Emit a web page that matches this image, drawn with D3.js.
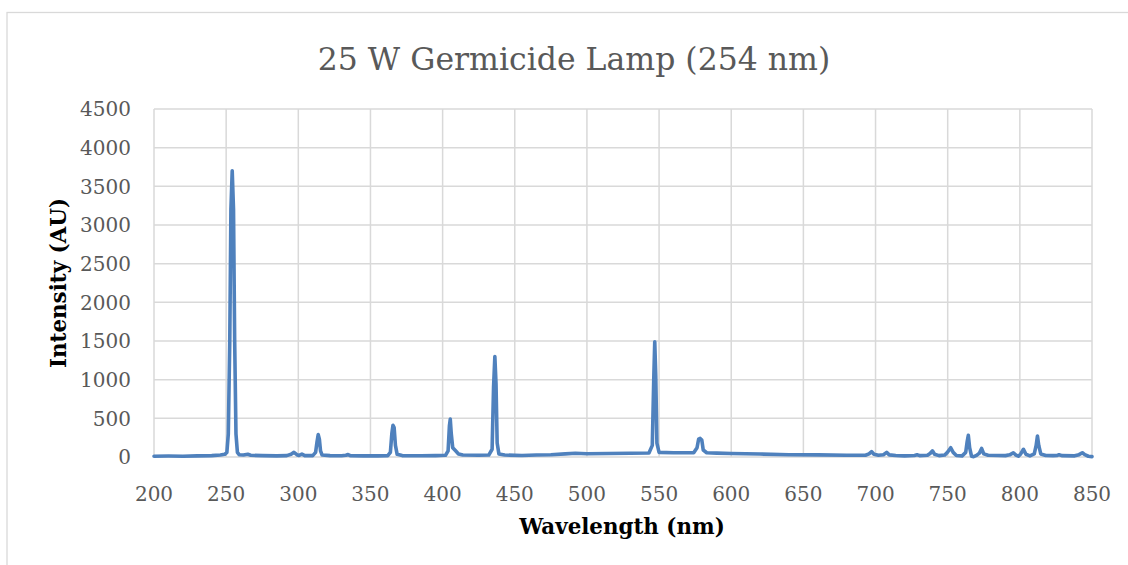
<!DOCTYPE html>
<meta charset="utf-8">
<style>
body {
  margin: 0;
  background: #fff;
}
text {
  font-family: "DejaVu Serif", serif;
}
.grid line {
  stroke: #d9d9d9;
  stroke-width: 1.5;
}
.tick-label {
  fill: #595959;
  font-size: 20px;
}
.axis-title {
  fill: #000;
  font-weight: bold;
  font-size: 21.4px;
}
</style>
<body>
<script src="https://cdn.jsdelivr.net/npm/d3@7"></script>
<script>

var width = 1128,
    height = 565;

var xTicks = [200, 250, 300, 350, 400, 450, 500, 550, 600, 650, 700, 750, 800, 850];
var yTicks = [0, 500, 1000, 1500, 2000, 2500, 3000, 3500, 4000, 4500];

// wavelength (nm), intensity (AU)
var wavelength = [
  200, 210, 220, 230, 240, 246, 249, 250.5, 251.5, 252.5, 253.3, 254.2, 255.1, 255.9, 256.8, 257.8, 259,
  262, 265, 267, 275, 285, 292, 295, 297, 299, 300.5, 302.5, 304.5,
  310, 312, 313, 313.8, 314.6, 315.4, 316.5, 322, 330, 333, 334.5, 336,
  345, 355, 362, 363.8, 364.8, 365.6, 366.4, 367.3, 368.5, 372,
  385, 395, 402, 403.8, 404.7, 405.3, 406, 407, 409, 411, 414,
  425, 432, 434.3, 435.3, 436.2, 437, 437.8, 439, 443,
  455, 465, 475, 485, 492, 500, 515, 530, 543,
  545.3, 546.3, 547, 547.7, 548.5, 550, 560, 574,
  576.3, 577.4, 578.5, 579.6, 580.6, 583, 590, 600, 620, 640, 660, 680,
  693, 695.5, 697.3, 698.9, 702, 705.5, 707.7, 709.5, 714, 720,
  727, 728.8, 730.5, 736, 737.8, 739.4, 740.9, 744, 748, 750, 752.1, 753.8, 756, 760,
  762.5, 763.5, 764.3, 765.2, 766.5, 768, 770, 772, 773.5, 775, 778,
  785, 790, 793, 795.5, 797.3, 799, 800.6, 802.5, 804.2, 807,
  810, 811.3, 812.2, 813.1, 814.5, 818, 823, 826, 827.2, 829,
  838, 841, 843.3, 845, 847.5, 850
];
var intensity = [
  10, 12, 10, 14, 18, 25, 35, 60, 300, 1500, 3200, 3700, 3200, 1500, 300, 60, 30,
  25, 35, 22, 18, 15, 18, 35, 60, 30, 20, 38, 18,
  18, 60, 200, 290, 230, 80, 25, 18, 16, 22, 32, 18,
  15, 15, 18, 60, 300, 410, 380, 150, 35, 18,
  16, 18, 22, 80, 400, 490, 300, 120, 80, 40, 25,
  22, 25, 100, 900, 1300, 950, 180, 40, 25,
  20, 25, 30, 40, 48, 42, 45, 48, 52,
  150, 1000, 1490, 1050, 180, 60, 55, 55,
  120, 230, 240, 220, 90, 55, 50, 45, 38, 30, 28, 22,
  22, 40, 70, 35, 22, 30, 60, 28, 20, 15,
  20, 28, 18, 22, 45, 80, 35, 18, 25, 65, 120, 60, 20, 15,
  60, 200, 280, 120, 10, 5, 20, 50, 110, 40, 22,
  20, 18, 28, 55, 25, 10, 40, 100, 35, 15,
  40, 150, 270, 150, 40, 20, 18, 20, 30, 18,
  15, 30, 55, 30, 10, 5
];

var data = wavelength.map(function(w, i) { return {w: w, v: intensity[i]}; });

var margin = {left: 154, right: 36, top: 109, bottom: 108};

var x = d3.scaleLinear()
    .domain([200, 850])
    .range([margin.left, width - margin.right]);

var y = d3.scaleLinear()
    .domain([0, 4500])
    .range([height - margin.bottom, margin.top]);

var svg = d3.select("body").append("svg")
    .attr("width", width)
    .attr("height", height);

// chart border
svg.append("rect")
    .attr("x", 7)
    .attr("y", 12.5)
    .attr("width", width)
    .attr("height", height)
    .attr("fill", "none")
    .attr("stroke", "#d9d9d9")
    .attr("stroke-width", 1.3);

var grid = svg.append("g").attr("class", "grid");

grid.selectAll(".hline")
    .data(yTicks)
  .enter().append("line")
    .attr("x1", x(200))
    .attr("x2", x(850))
    .attr("y1", function(d) { return y(d); })
    .attr("y2", function(d) { return y(d); });

grid.selectAll(".vline")
    .data(xTicks)
  .enter().append("line")
    .attr("x1", function(d) { return x(d); })
    .attr("x2", function(d) { return x(d); })
    .attr("y1", y(0))
    .attr("y2", y(4500));

svg.selectAll(".ylab")
    .data(yTicks)
  .enter().append("text")
    .attr("class", "tick-label")
    .attr("x", x(200) - 23)
    .attr("y", function(d) { return y(d); })
    .attr("dy", "0.36em")
    .style("text-anchor", "end")
    .text(function(d) { return d; });

svg.selectAll(".xlab")
    .data(xTicks)
  .enter().append("text")
    .attr("class", "tick-label")
    .attr("x", function(d) { return x(d); })
    .attr("y", 501)
    .style("text-anchor", "middle")
    .text(function(d) { return d; });

var line = d3.line()
    .x(function(d) { return x(d.w); })
    .y(function(d) { return y(d.v); });

svg.append("path")
    .datum(data)
    .attr("d", line)
    .attr("fill", "none")
    .attr("stroke", "#4f81bd")
    .attr("stroke-width", 3.6)
    .attr("stroke-linejoin", "round")
    .attr("stroke-linecap", "round");

svg.append("text")
    .attr("x", 574)
    .attr("y", 70)
    .style("text-anchor", "middle")
    .style("font-size", "31.5px")
    .attr("fill", "#595959")
    .text("25 W Germicide Lamp (254 nm)");

svg.append("text")
    .attr("class", "axis-title")
    .attr("x", 622)
    .attr("y", 534)
    .style("text-anchor", "middle")
    .text("Wavelength (nm)");

svg.append("text")
    .attr("class", "axis-title")
    .attr("transform", "translate(58," + y(2250) + ") rotate(-90)")
    .attr("dy", "0.36em")
    .style("text-anchor", "middle")
    .text("Intensity (AU)");

</script>
